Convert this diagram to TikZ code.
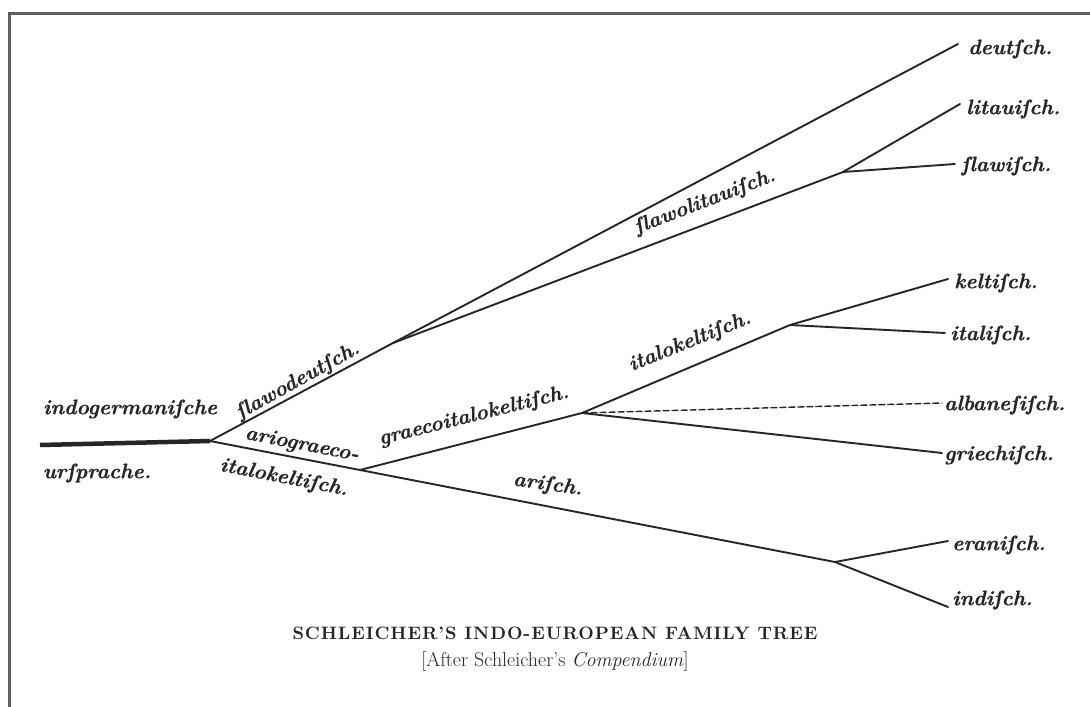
\documentclass[tikz,border=0pt]{standalone}
\usepackage{fontspec}
\newfontfamily\lblfont{lmroman10-bolditalic}[Extension=.otf, FakeBold=0.6]
\newfontfamily\capfont{lmroman10-bold}[Extension=.otf, LetterSpace=5]
\begin{document}
\begin{tikzpicture}[x=1pt,y=-1pt,
  branch/.style={line width=1.9pt, black!85, line cap=round},
  rootline/.style={line width=4.5pt, black!85},
  lbl/.style={font=\lblfont\fontsize{21}{24}\selectfont, inner sep=0pt, text=black!85},
  leaf/.style={lbl, anchor=west},
  frameline/.style={line width=3pt, gray!75!black},
]
\useasboundingbox (0,0) rectangle (1090,707);
\draw[frameline] (9.5,707) -- (9.5,13.5) -- (1090,13.5);

% junctions
\coordinate (start) at (40,445);
\coordinate (R) at (210,441);
\coordinate (SD) at (393,343);
\coordinate (SL) at (843,172);
\coordinate (AG) at (360,470);
\coordinate (GIK) at (582,413);
\coordinate (IK) at (790,325);
\coordinate (AR) at (835,562);
% line ends
\coordinate (eDeu) at (958,44);
\coordinate (eLit) at (960,104);
\coordinate (eSla) at (955,164);
\coordinate (eKel) at (948,279);
\coordinate (eIta) at (945,333);
\coordinate (eAlb) at (942,403);
\coordinate (eGri) at (942,453);
\coordinate (eEra) at (948,541);
\coordinate (eInd) at (948,607);

% connectors
\draw[rootline] (start) -- (R);
\draw[branch] (R) -- (SD);
\draw[branch] (SD) -- (eDeu);
\draw[branch] (SD) -- (SL);
\draw[branch] (SL) -- (eLit);
\draw[branch] (SL) -- (eSla);
\draw[branch] (R) -- (AG);
\draw[branch] (AG) -- (GIK);
\draw[branch] (GIK) -- (IK);
\draw[branch] (IK) -- (eKel);
\draw[branch] (IK) -- (eIta);
\draw[branch, line width=1.4pt, dash pattern=on 6pt off 3pt] (GIK) -- (eAlb);
\draw[branch] (GIK) -- (eGri);
\draw[branch] (AG) -- (AR);
\draw[branch] (AR) -- (eEra);
\draw[branch] (AR) -- (eInd);

% inner labels
\node[lbl] (indo) at (130,409) {indogermaniſche};
\node[lbl] (ur) at (97,473) {urſprache.};
\node[lbl, rotate=29] (sd) at (298,381) {ſlawodeutſch.};
\node[lbl, rotate=-11] (ag) at (302,445) {ariograeco-};
\node[lbl, rotate=-11] (ik1) at (284,478) {italokeltiſch.};
\node[lbl, rotate=14] (gik) at (474,416) {graecoitalokeltiſch.};
\node[lbl, rotate=-8] (ar) at (548,485) {ariſch.};
\node[lbl, rotate=22] (ik2) at (690,342) {italokeltiſch.};
\node[lbl, rotate=21] (sl) at (705,202) {ſlawolitauiſch.};

% leaf labels
\node[leaf] (deu) at (968,49) {deutſch.};
\node[leaf] (lit) at (966,109) {litauiſch.};
\node[leaf] (sla) at (961,166) {ſlawiſch.};
\node[leaf] (kel) at (954,283) {keltiſch.};
\node[leaf] (ita) at (950,335) {italiſch.};
\node[leaf] (alb) at (944,405) {albaneſiſch.};
\node[leaf] (gri) at (944,455) {griechiſch.};
\node[leaf] (era) at (952,545) {eraniſch.};
\node[leaf] (ind) at (952,600) {indiſch.};

% caption
\node[text=black!85] (cap1) at (555,633) {\capfont\fontsize{18}{21}\selectfont SCHLEICHER’S INDO-EUROPEAN FAMILY TREE};
\node[text=black!85] (cap2) at (555,661) {\fontsize{20}{23}\selectfont [After Schleicher’s \textit{Compendium}]};
\end{tikzpicture}
\end{document}
